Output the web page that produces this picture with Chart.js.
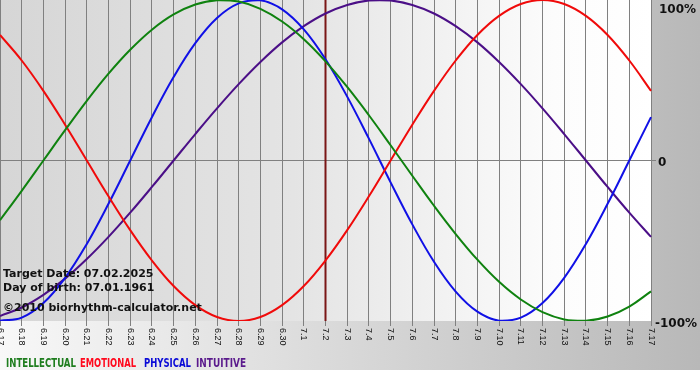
<!DOCTYPE html>
<html>
<head>
<meta charset="utf-8">
<script src="https://cdn.jsdelivr.net/npm/chart.js@4"></script>
<style>
  html, body { margin: 0; padding: 0; background: #ffffff; }
  canvas { display: block; }
</style>
</head>
<body>
<canvas id="grafico-biorritmo" width="700" height="380"></canvas>
<script>
// Datos (en %)
const dias = ["6.17", "6.18", "6.19", "6.20", "6.21", "6.22", "6.23", "6.24", "6.25", "6.26",
    "6.27", "6.28", "6.29", "6.30", "7.1", "7.2", "7.3", "7.4", "7.5", "7.6", "7.7", "7.8",
    "7.9", "7.10", "7.11", "7.12", "7.13", "7.14", "7.15", "7.16", "7.17"];

const intelectual = [-37.2, -18.9, 0, 18.9, 37.2, 54.1, 69.0, 81.5, 91.0, 97.2, 99.9, 99.0,
    94.5, 86.6, 75.6, 61.8, 45.8, 28.2, 9.5, -9.5, -28.2, -45.8, -61.8, -75.6, -86.6, -94.5,
    -99.0, -99.9, -97.2, -91.0, -81.5];

const emocional = [78.2, 62.3, 43.4, 22.3, 0, -22.3, -43.4, -62.3, -78.2, -90.1, -97.5, -100,
    -97.5, -90.1, -78.2, -62.3, -43.4, -22.3, 0, 22.3, 43.4, 62.3, 78.2, 90.1, 97.5, 100,
    97.5, 90.1, 78.2, 62.3, 43.4];

const fisico = [-99.8, -97.9, -88.8, -73.1, -52.0, -27.0, 0, 27.0, 52.0, 73.1, 88.8, 97.9,
    99.8, 94.2, 81.7, 63.1, 39.8, 13.6, -13.6, -39.8, -63.1, -81.7, -94.2, -99.8, -97.9,
    -88.8, -73.1, -52.0, -27.0, 0, 27.0];

const intuitivo = [-96.9, -91.6, -83.7, -73.6, -61.4, -47.6, -32.5, -16.5, 0, 16.5, 32.5,
    47.6, 61.4, 73.6, 83.7, 91.6, 96.9, 99.7, 99.7, 96.9, 91.6, 83.7, 73.6, 61.4, 47.6, 32.5,
    16.5, 0, -16.5, -32.5, -47.6];

const etiquetasEje = ["100%", "0", "-100%"];
const fechaObjetivo = "7.2";
const textosInfo = ["Target Date: 07.02.2025", "Day of birth: 07.01.1961", "\u00a92010 biorhythm-calculator.net"];
const leyenda = ["INTELLECTUAL", "EMOTIONAL", "PHYSICAL", "INTUITIVE"];

// Colores
const colores = ["#0f820f", "#f00a0a", "#1010e6", "#4b0f87"];
const coloresLeyenda = ["#1e7d1e", "#ff0a1e", "#0a0ad7", "#5a1a8c"];

// Fondo y textos dibujados a mano
const pluginFondo = {
    id: "fondo",
    beforeDraw(chart) {
        const ctx = chart.ctx;
        const area = chart.chartArea;
        ctx.save();
        const gFondo = ctx.createLinearGradient(0, 0, chart.width, 0);
        gFondo.addColorStop(0, "#f8f8f8");
        gFondo.addColorStop(1, "#b8b8b8");
        ctx.fillStyle = gFondo;
        ctx.fillRect(0, 0, chart.width, 370);

        const gArea = ctx.createLinearGradient(area.left, 0, area.right, 0);
        gArea.addColorStop(0, "#d6d6d6");
        gArea.addColorStop(0.45, "#e4e4e4");
        gArea.addColorStop(0.85, "#fcfcfc");
        gArea.addColorStop(1, "#ffffff");
        ctx.fillStyle = gArea;
        ctx.fillRect(area.left, area.top, area.right - area.left, area.bottom - area.top);
        ctx.restore();
    },
    beforeDatasetsDraw(chart) {
        const ctx = chart.ctx;
        const area = chart.chartArea;
        const x = chart.scales.x.getPixelForValue(dias.indexOf(fechaObjetivo));
        ctx.save();
        ctx.strokeStyle = "#7a1616";
        ctx.lineWidth = 2;
        ctx.beginPath();
        ctx.moveTo(x, area.top);
        ctx.lineTo(x, area.bottom);
        ctx.stroke();
        ctx.restore();
    },
    afterDatasetsDraw(chart) {
        const ctx = chart.ctx;
        const area = chart.chartArea;
        const escalaX = chart.scales.x;
        ctx.save();

        // Texto informativo
        ctx.fillStyle = "#111111";
        ctx.font = "bold 11px 'DejaVu Sans'";
        ctx.textAlign = "left";
        ctx.textBaseline = "alphabetic";
        const basesInfo = [277, 291, 311];
        textosInfo.forEach((t, i) => ctx.fillText(t, 3, basesInfo[i]));

        // Etiquetas del eje derecho
        ctx.font = "bold 12px 'DejaVu Sans'";
        ctx.fillText(etiquetasEje[0], 659, 13);
        ctx.fillText(etiquetasEje[1], 658, 166);
        ctx.fillText(etiquetasEje[2], 655, 327);

        // Etiquetas de días giradas
        ctx.font = "9px 'Liberation Sans'";
        ctx.textBaseline = "middle";
        dias.forEach((d, i) => {
            const x = escalaX.getPixelForValue(i);
            ctx.save();
            ctx.translate(x, area.bottom + 7);
            ctx.rotate(Math.PI / 2);
            ctx.fillText(d, 0, 0);
            ctx.restore();
        });

        // Leyenda
        ctx.font = "bold 13px 'DejaVu Sans'";
        ctx.textBaseline = "alphabetic";
        const posLeyenda = [6, 80, 144, 196];
        const anchoLeyenda = [70, 56, 47, 50];
        leyenda.forEach((t, i) => {
            const w = ctx.measureText(t).width;
            ctx.save();
            ctx.translate(posLeyenda[i], 367);
            ctx.scale(anchoLeyenda[i] / w, 1);
            ctx.fillStyle = coloresLeyenda[i];
            ctx.fillText(t, 0, 0);
            ctx.restore();
        });
        ctx.restore();
    }
};

const ctx = document.getElementById("grafico-biorritmo").getContext("2d");

const grafico = new Chart(ctx, {
    type: "line",
    data: {
        labels: dias,
        datasets: [
            { label: leyenda[0], data: intelectual, borderColor: colores[0] },
            { label: leyenda[1], data: emocional, borderColor: colores[1] },
            { label: leyenda[2], data: fisico, borderColor: colores[2] },
            { label: leyenda[3], data: intuitivo, borderColor: colores[3] }
        ].map(ds => Object.assign(ds, { borderWidth: 2, pointRadius: 0, tension: 0.4, fill: false }))
    },
    options: {
        responsive: false,
        animation: false,
        devicePixelRatio: 1,
        layout: { padding: { left: 0, top: 0, right: 44, bottom: 54 } },
        plugins: {
            legend: { display: false },
            tooltip: { enabled: false }
        },
        scales: {
            x: {
                offset: false,
                ticks: { display: false },
                border: { display: false },
                grid: { color: "#808080", lineWidth: 1, drawTicks: true, tickLength: 5 }
            },
            y: {
                position: "right",
                min: -100,
                max: 100,
                ticks: { display: false, stepSize: 100 },
                border: { display: false },
                grid: {
                    color: c => (c.tick && c.tick.value === 0 ? "#808080" : "rgba(0,0,0,0)"),
                    lineWidth: 1,
                    drawTicks: true,
                    tickLength: 5
                }
            }
        }
    },
    plugins: [pluginFondo]
});
</script>
</body>
</html>
